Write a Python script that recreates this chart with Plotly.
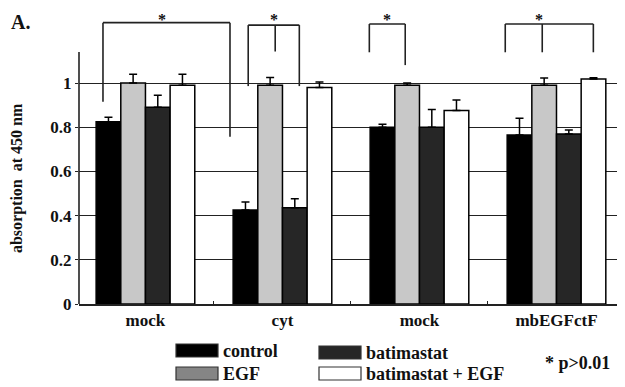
import plotly.graph_objects as go

# ---------------- data ----------------
groups = ["mock", "cyt", "mock", "mbEGFctF"]
series_names = ["control", "EGF", "batimastat", "batimastat + EGF"]
control = [0.825, 0.425, 0.80, 0.765]
control_err = [0.02, 0.037, 0.013, 0.075]
egf = [1.0, 0.99, 0.99, 0.99]
egf_err = [0.04, 0.035, 0.01, 0.033]
batimastat = [0.89, 0.436, 0.80, 0.769]
batimastat_err = [0.055, 0.04, 0.08, 0.018]
bat_egf = [0.99, 0.98, 0.876, 1.018]
bat_egf_err = [0.05, 0.025, 0.047, 0.006]
y_ticks = [0, 0.2, 0.4, 0.6, 0.8, 1]
y_ticktext = ["0", "0.2", "0.4", "0.6", "0.8", "1"]

values = [control, egf, batimastat, bat_egf]
errors = [control_err, egf_err, batimastat_err, bat_egf_err]
bar_colors = ["#000000", "#c8c8c8", "#262626", "#ffffff"]
legend_colors = ["#000000", "#858585", "#262626", "#ffffff"]

FONT = "Liberation Serif"
OFF = 8  # page body margin
W, H = 625 - OFF, 387 - OFF
ML, MR, MT, MB = 79 - OFF, 0, 0, 387 - 304
PW, PH = W - ML - MR, H - MT - MB
UNIT = 221.0
Y_TOP = PH / UNIT

xs = list(range(len(groups)))

fig = go.Figure()
for name, vals, errs, col in zip(series_names, values, errors, bar_colors):
    fig.add_trace(go.Bar(
        x=xs, y=vals, name=name,
        marker=dict(color=col, line=dict(color="#000000", width=1.5)),
        error_y=dict(type="data", array=errs, arrayminus=[0] * len(errs),
                     symmetric=False, color="#000000", thickness=1.5, width=4),
        showlegend=False,
    ))

# reference-picture pixel -> paper coordinates
def px(xp):
    return (xp - OFF - ML) / PW

def py(yp):
    return (MT + PH - (yp - OFF)) / PH

shapes = []
annotations = []
line_style = dict(color="#222222", width=1.6)

# y axis line (shorter than plot area)
shapes.append(dict(type="line", xref="paper", yref="paper", x0=0, x1=0,
                   y0=0, y1=1.14 / Y_TOP, line=dict(color="#222222", width=1.6)))

# significance brackets (data coordinates)
brackets = [
    dict(top=1.273, legs=[(-0.31, 0.915), (0.617, 0.757)], star=0.12),
    dict(top=1.262, legs=[(0.750, 0.986), (0.947, 1.142), (1.123, 0.986)], star=0.94),
    dict(top=1.267, legs=[(1.634, 1.139), (1.896, 1.081)], star=1.765),
    dict(top=1.267, legs=[(2.626, 1.139), (2.896, 1.139), (3.269, 1.139)], star=2.87),
]
for b in brackets:
    lx = [l[0] for l in b["legs"]]
    shapes.append(dict(type="line", xref="x", yref="y", x0=min(lx), x1=max(lx),
                       y0=b["top"], y1=b["top"], line=line_style))
    for (x, yb) in b["legs"]:
        shapes.append(dict(type="line", xref="x", yref="y", x0=x, x1=x,
                           y0=b["top"], y1=yb, line=line_style))
    annotations.append(dict(x=b["star"], y=0.998, xref="x", yref="paper",
                            text="<b>*</b>", showarrow=False, yanchor="top",
                            font=dict(family=FONT, size=16, color="#111111")))

# custom legend
leg_pos = [(176, 344), (176, 367), (319, 346), (319, 367)]
for name, col, (lx, ly) in zip(series_names, legend_colors, leg_pos):
    shapes.append(dict(type="rect", xref="paper", yref="paper",
                       x0=px(lx), x1=px(lx + 42), y0=py(ly), y1=py(ly + 13),
                       fillcolor=col, line=dict(color="#333333", width=1.2)))
    annotations.append(dict(x=px(lx + 45), y=py(ly + 6.5), xref="paper", yref="paper",
                            text="<b>" + name + "</b>", showarrow=False,
                            xanchor="left", yanchor="middle",
                            font=dict(family=FONT, size=18, color="#111111")))

annotations.append(dict(x=px(543), y=py(363), xref="paper", yref="paper",
                        text="<b>* p>0.01</b>", showarrow=False,
                        xanchor="left", yanchor="middle",
                        font=dict(family=FONT, size=18, color="#111111")))
annotations.append(dict(x=px(9), y=0.998, xref="paper", yref="paper",
                        text="<b>A.</b>", showarrow=False,
                        xanchor="left", yanchor="top",
                        font=dict(family=FONT, size=20, color="#111111")))
annotations.append(dict(x=px(17), y=0.57, xref="paper", yref="y",
                        text="<b>absorption  at 450 nm</b>", showarrow=False,
                        textangle=-90, xanchor="center", yanchor="middle",
                        font=dict(family=FONT, size=16, color="#111111")))

fig.update_layout(
    width=W, height=H,
    margin=dict(l=ML, r=MR, t=MT, b=MB, autoexpand=False),
    paper_bgcolor="white", plot_bgcolor="white",
    barmode="group", bargap=0.28, bargroupgap=0,
    shapes=shapes, annotations=annotations,
    font=dict(family=FONT, color="#111111"),
    xaxis=dict(range=[-0.485, 3.5], tickmode="array", tickvals=xs,
               ticktext=["<b>" + g + "</b>" for g in groups],
               tickfont=dict(family=FONT, size=17, color="#111111"),
               showline=True, linecolor="#222222", linewidth=1.6,
               ticks="", showgrid=False, zeroline=False, automargin=False,
               minor=dict(tick0=0.5, dtick=1, ticks="inside", ticklen=3,
                          tickcolor="#222222", showgrid=False)),
    yaxis=dict(range=[0, Y_TOP], tickmode="array", tickvals=y_ticks,
               ticktext=["<b>" + t + "</b>" for t in y_ticktext],
               tickfont=dict(family=FONT, size=17, color="#111111"),
               showgrid=True, gridcolor="#222222", gridwidth=1.4,
               zeroline=False, showline=False, ticks="outside", ticklen=3,
               tickcolor="#222222", automargin=False),
)

fig.write_html("out.html")
